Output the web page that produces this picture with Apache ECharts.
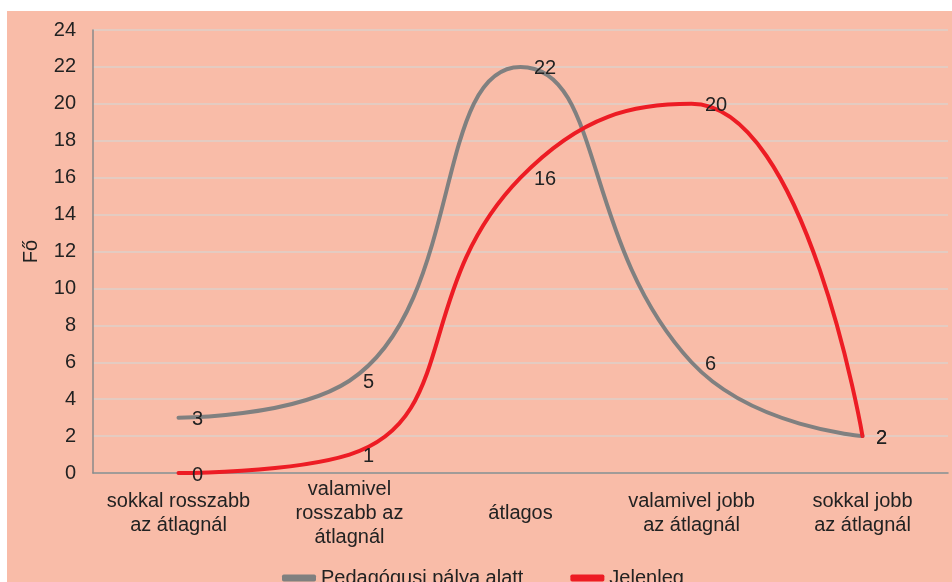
<!DOCTYPE html>
<html>
<head>
<meta charset="utf-8">
<script src="https://cdn.jsdelivr.net/npm/echarts@6/dist/echarts.min.js"></script>
<style>
  html, body { margin: 0; padding: 0; background: #ffffff; }
  #chart { position: absolute; left: 7px; top: 11px; width: 945px; height: 571px; background: #F9BCA8; }
</style>
</head>
<body>
<div id="chart"></div>
<script>
// kategóriák és adatsorok
var categories = [
    "sokkal rosszabb\naz átlagnál",
    "valamivel\nrosszabb az\nátlagnál",
    "átlagos",
    "valamivel jobb\naz átlagnál",
    "sokkal jobb\naz átlagnál"
];
var seriesNames = ["Pedagógusi pálya alatt", "Jelenleg"];
var palyaAlatt = [3, 5, 22, 6, 2];
var jelenleg = [0, 1, 16, 20, 2];

var myChart = echarts.init(document.getElementById("chart"));

var labelStyle = {
    show: true,
    position: "right",
    distance: 13,
    offset: [0, 2],
    color: "#222",
    fontSize: 20,
    fontFamily: "Liberation Sans, Arial, sans-serif"
};

var option = {
    animation: false,
    textStyle: { fontFamily: "Liberation Sans, Arial, sans-serif" },
    grid: { left: 86, right: 4, top: 19, bottom: 109 },
    legend: {
        left: 270,
        top: 552,
        itemGap: 47,
        itemWidth: 34,
        itemHeight: 7,
        icon: "roundRect",
        textStyle: { fontSize: 20, color: "#222" },
        data: seriesNames
    },
    xAxis: {
        type: "category",
        boundaryGap: true,
        data: categories,
        axisLine: { lineStyle: { color: "#8a8a8a", width: 1.5 } },
        axisTick: { show: false },
        axisLabel: {
            interval: 0,
            margin: 40,
            verticalAlign: "middle",
            color: "#222",
            fontSize: 20,
            lineHeight: 24
        }
    },
    yAxis: {
        type: "value",
        min: 0,
        max: 24,
        interval: 2,
        name: "Fő",
        nameLocation: "middle",
        nameGap: 52,
        nameTextStyle: { color: "#222", fontSize: 20 },
        axisLine: { show: true, lineStyle: { color: "#8a8a8a", width: 1.5 } },
        axisTick: { show: false },
        axisLabel: { color: "#222", fontSize: 20, margin: 17 },
        splitLine: { lineStyle: { color: "#DDD0CA", width: 1.5 } }
    },
    series: [
        {
            name: seriesNames[0],
            type: "line",
            smooth: 0.5,
            data: palyaAlatt,
            showSymbol: true,
            symbol: "circle",
            symbolSize: 1,
            color: "#808080",
            lineStyle: { width: 4, color: "#808080", cap: "round" },
            label: labelStyle
        },
        {
            name: seriesNames[1],
            type: "line",
            smooth: 0.5,
            data: jelenleg,
            showSymbol: true,
            symbol: "circle",
            symbolSize: 1,
            color: "#ED1C24",
            lineStyle: { width: 4, color: "#ED1C24", cap: "round" },
            label: labelStyle
        }
    ]
};
myChart.setOption(option);
</script>
</body>
</html>
